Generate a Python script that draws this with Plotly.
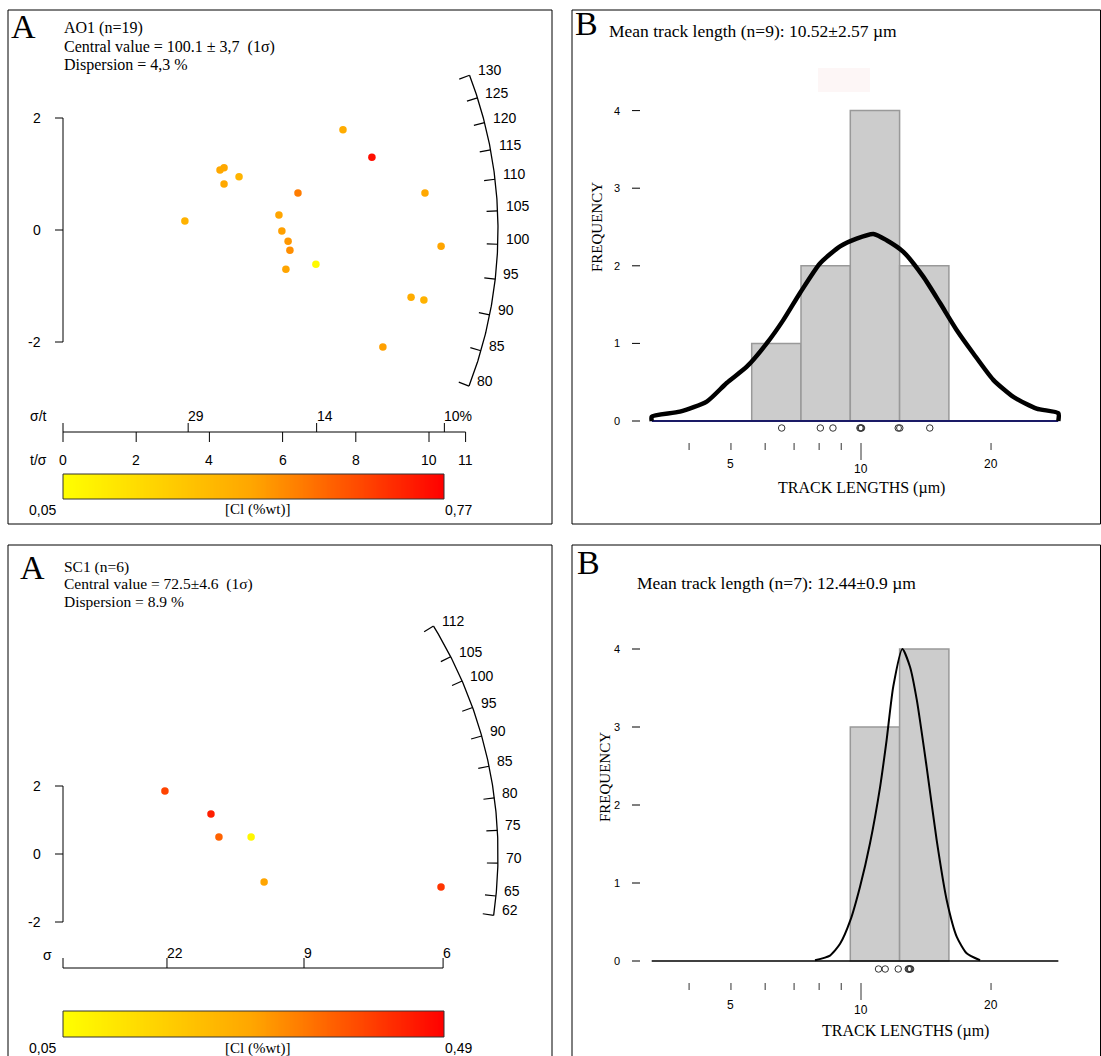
import numpy as np
import plotly.graph_objects as go

W, H = 1101, 1056
SERIF = "Liberation Serif, Times New Roman, serif"
SANS = "Liberation Sans, Arial, sans-serif"

# ================= DATA =================
# --- AO1 radial plot (panel A, top) ---
ao1_precision = [3.33, 4.29, 4.40, 4.40, 4.81, 6.42, 7.65, 8.44, 5.90, 5.98,
                 6.15, 6.20, 6.09, 6.91, 9.89, 10.33, 9.51, 9.86, 8.74]   # t/sigma
ao1_std_est = [0.16, 1.07, 1.11, 0.82, 0.95, 0.66, 1.79, 1.30, 0.27, -0.02,
               -0.20, -0.36, -0.70, -0.61, 0.66, -0.29, -1.20, -1.25, -2.09]
ao1_cl = [0.36, 0.40, 0.40, 0.40, 0.35, 0.50, 0.38, 0.74, 0.41, 0.42,
          0.44, 0.46, 0.41, 0.07, 0.40, 0.41, 0.38, 0.36, 0.42]
ao1_cl_range = [0.05, 0.77]
ao1_cl_labels = ["0,05", "0,77"]
ao1_age_ticks = [80, 85, 90, 95, 100, 105, 110, 115, 120, 125, 130]
ao1_tsig_ticks = [0, 2, 4, 6, 8, 10, 11]
ao1_sigt_pos = [3.42, 6.93, 10.42]
ao1_sigt_labels = ["29", "14", "10%"]
ao1_yticks = [-2, 0, 2]

# --- SC1 radial plot (panel A, bottom) ---
sc1_precision = [4.47, 6.49, 6.84, 8.25, 8.82, 16.58]
sc1_std_est = [1.85, 1.18, 0.50, 0.50, -0.82, -0.97]
sc1_cl = [0.40, 0.45, 0.36, 0.07, 0.27, 0.42]
sc1_cl_range = [0.05, 0.49]
sc1_cl_labels = ["0,05", "0,49"]
sc1_age_ticks = [62, 65, 70, 75, 80, 85, 90, 95, 100, 105, 112]
sc1_sig_pos = [4.56, 10.57, 16.67]
sc1_sig_labels = ["22", "9", "6"]
sc1_yticks = [-2, 0, 2]

# --- track length histograms (panels B) ---
bin_edges = [5.0, 7.5, 10.0, 12.5, 15.0]
ao1_counts = [1, 2, 4, 2]
sc1_counts = [0, 0, 3, 4]
ao1_lengths = [6.52, 8.48, 9.12, 10.49, 10.53, 10.57, 12.43, 12.51, 14.03]
sc1_lengths = [11.43, 11.77, 12.43, 12.94, 12.98, 13.02, 13.06]
ao1_kde_x = [-0.07, 1.36, 2.72, 3.73, 4.75, 5.76, 6.6, 7.45, 8.46, 9.48, 10.32,
             11.17, 11.84, 12.69, 13.70, 14.55, 15.40, 16.24, 17.25, 18.27, 19.45, 20.55]
ao1_kde_y = [0.055, 0.12, 0.25, 0.49, 0.70, 1.0, 1.30, 1.65, 2.03, 2.25, 2.35,
             2.41, 2.33, 2.18, 1.86, 1.52, 1.17, 0.87, 0.53, 0.31, 0.16, 0.10]
sc1_kde_x = [8.21, 8.97, 9.48, 10.0, 10.49, 11.0, 11.51, 11.84, 12.18, 12.64,
             13.03, 13.37, 13.87, 14.38, 14.89, 15.40, 15.90, 16.58]
sc1_kde_y = [0.01, 0.07, 0.22, 0.52, 0.95, 1.51, 2.23, 2.83, 3.52, 4.0,
             3.77, 3.35, 2.49, 1.55, 0.78, 0.31, 0.10, 0.01]
kde_span = [-0.07, 20.55]
freq_ticks = [0, 1, 2, 3, 4]
length_ticks = [4, 5, 6, 7, 8, 9, 10, 20]
length_tick_labels = {5: "5", 10: "10", 20: "20"}

CSCALE = [[0, "#FFFF00"], [0.5, "#FFA500"], [1, "#FF0000"]]

# ================= FIGURE =================
fig = go.Figure()
lay = dict(width=W, height=H, margin=dict(l=0, r=0, t=0, b=0),
           paper_bgcolor="white", plot_bgcolor="rgba(0,0,0,0)", showlegend=False)
annotations = []
shapes = []


def ax_common(**kw):
    d = dict(visible=False, showgrid=False, zeroline=False, fixedrange=True)
    d.update(kw)
    return d


def set_axes(n, box, ox, oy, sx, sy, xtype="linear", yref_n=None, overlay=None):
    x0, y0, x1, y1 = box
    xname = "xaxis" if n == 1 else f"xaxis{n}"
    yn = yref_n if yref_n else n
    lay[xname] = ax_common(domain=[x0 / W, x1 / W], range=[(x0 - ox) / sx, (x1 - ox) / sx],
                           type=xtype, anchor="y" if yn == 1 else f"y{yn}")
    if overlay:
        lay[xname]["overlaying"] = overlay
    if yref_n is None:
        yname = "yaxis" if n == 1 else f"yaxis{n}"
        lay[yname] = ax_common(domain=[1 - y1 / H, 1 - y0 / H],
                               range=[(oy - y1) / sy, (oy - y0) / sy],
                               anchor="x" if n == 1 else f"x{n}")


def pann(text, px, py, size, family, xanchor="center", yanchor="middle", angle=0, color="black"):
    annotations.append(dict(text=text, x=px / W, y=1 - py / H, xref="paper", yref="paper",
                            showarrow=False, xanchor=xanchor, yanchor=yanchor, textangle=angle,
                            font=dict(size=size, family=family, color=color)))


def dann(text, x, y, xr, yr, size, family=SANS, xanchor="center", yanchor="middle",
         xshift=0, yshift=0):
    annotations.append(dict(text=text, x=x, y=y, xref=xr, yref=yr, showarrow=False,
                            xanchor=xanchor, yanchor=yanchor, xshift=xshift, yshift=yshift,
                            font=dict(size=size, family=family, color="black")))


def segs(seglist, xa, ya, color="black", width=1.0):
    xs, ys = [], []
    for (a, b, c, d) in seglist:
        xs += [a, c, None]
        ys += [b, d, None]
    fig.add_trace(go.Scatter(x=xs, y=ys, mode="lines", line=dict(color=color, width=width),
                             xaxis=xa, yaxis=ya, hoverinfo="skip"))


def prect(x0, y0, x1, y1, color="black", width=1, fill=None):
    shapes.append(dict(type="rect", xref="paper", yref="paper", x0=x0 / W, x1=x1 / W,
                       y0=1 - y1 / H, y1=1 - y0 / H, line=dict(color=color, width=width),
                       fillcolor=fill if fill else "rgba(0,0,0,0)",
                       layer="above"))


# panel frames
prect(8, 10, 552, 524)
prect(572, 10, 1100.5, 524)
prect(8, 545, 552, 1058)
prect(572, 545, 1100.5, 1058)


# ---------- radial plot builder ----------
def radial(n, box, ox, oy, sx, sy, prec, zval, cl, clr, age_ticks, theta_fn, yticks, xa, ya):
    set_axes(n, box, ox, oy, sx, sy)
    yv = lambda py: (oy - py) / sy
    # left axis
    segs([(0, min(yticks), 0, max(yticks))] + [(0, t, -8 / sx, t) for t in yticks], xa, ya, width=1)
    for t in yticks:
        dann(str(t), 0, t, xa, ya, 14, xanchor="right", xshift=-20)
    # arc
    R = 435.0
    th = np.linspace(theta_fn(min(age_ticks)), theta_fn(max(age_ticks)), 200)
    fig.add_trace(go.Scatter(x=R * np.cos(th) / sx, y=R * np.sin(th) / sy, mode="lines",
                             line=dict(color="black", width=1.3), xaxis=xa, yaxis=ya,
                             hoverinfo="skip"))
    tk = []
    for a in age_ticks:
        t = theta_fn(a)
        tk.append(((R - 11) * np.cos(t) / sx, (R - 11) * np.sin(t) / sy,
                   R * np.cos(t) / sx, R * np.sin(t) / sy))
        dann(str(a), R * np.cos(t) / sx, R * np.sin(t) / sy, xa, ya, 14,
             xanchor="left", xshift=6, yshift=5)
    segs(tk, xa, ya, width=1.2)
    # points
    fig.add_trace(go.Scatter(x=prec, y=zval, mode="markers", xaxis=xa, yaxis=ya,
                             marker=dict(size=7.5, color=cl, colorscale=CSCALE,
                                         cmin=clr[0], cmax=clr[1], line=dict(width=0)),
                             hoverinfo="skip"))
    return yv


ln_t0_top = np.log(102.1)
theta_top = lambda a: np.arctan(1.576 * (np.log(a) - ln_t0_top))
theta_bot = lambda a: np.arctan(0.01515 * (a - 71.4))

# ---- Panel A top ----
yv1 = radial(1, (8, 10, 552, 524), 63, 230, 36.6, 56, ao1_precision, ao1_std_est, ao1_cl,
             ao1_cl_range, ao1_age_ticks, theta_top, ao1_yticks, "x", "y")
segs([(0, yv1(432), max(ao1_tsig_ticks), yv1(432))]
     + [(p, yv1(432), p, yv1(423)) for p in [0] + ao1_sigt_pos]
     + [(t, yv1(432), t, yv1(442)) for t in ao1_tsig_ticks], "x", "y", width=1)
for t in ao1_tsig_ticks:
    dann(str(t), t, yv1(460), "x", "y", 14)
for p, lab in zip(ao1_sigt_pos, ao1_sigt_labels):
    dann(lab, p, yv1(416), "x", "y", 14, xanchor="left", xshift=-2)
pann("σ/t", 38, 416, 14, SANS)
pann("t/σ", 38, 460, 14, SANS)

# ---- Panel A bottom ----
yv2 = radial(4, (8, 545, 552, 1056), 63, 854, 22.8, 34, sc1_precision, sc1_std_est, sc1_cl,
             sc1_cl_range, sc1_age_ticks, theta_bot, sc1_yticks, "x4", "y4")
segs([(0, yv2(968), max(sc1_sig_pos), yv2(968))]
     + [(p, yv2(968), p, yv2(958)) for p in [0] + sc1_sig_pos], "x4", "y4", width=1)
for p, lab in zip(sc1_sig_pos, sc1_sig_labels):
    dann(lab, p, yv2(953), "x4", "y4", 14, xanchor="left", xshift=-2)
pann("σ", 47, 955, 14, SANS)


# ---- colour bars ----
def colorbar(n, box, clr, labels):
    x0, y0, x1, y1 = box
    lay[f"xaxis{n}"] = ax_common(domain=[x0 / W, x1 / W], range=clr, anchor=f"y{n}")
    lay[f"yaxis{n}"] = ax_common(domain=[1 - y1 / H, 1 - y0 / H], range=[0, 1], anchor=f"x{n}")
    vals = np.linspace(clr[0], clr[1], 300)
    fig.add_trace(go.Heatmap(z=[vals], x=vals, y=[0.5], colorscale=CSCALE, zmin=clr[0],
                             zmax=clr[1], showscale=False, xaxis=f"x{n}", yaxis=f"y{n}",
                             hoverinfo="skip"))
    prect(x0, y0, x1, y1, color="#333333", width=1)
    ly = y1 + 11
    pann(labels[0], x0 - 5, ly, 14, SANS, xanchor="right")
    pann(labels[1], x1 - 1, ly, 14, SANS, xanchor="left")
    pann("[Cl (%wt)]", (x0 + x1) / 2 + 4, ly, 15, SERIF)


colorbar(7, (63, 474, 444, 499), ao1_cl_range, ao1_cl_labels)
colorbar(8, (63, 1011, 444, 1037), sc1_cl_range, sc1_cl_labels)


# ---------- histogram builder ----------
def histo(n, nlog, box, oy, sy, counts, lengths, kx, ky, thick, base_color,
          rug_py, tick_py, lab_py):
    ox, sx = 653.1, 19.72
    set_axes(n, box, ox, oy, sx, sy)
    set_axes(nlog, box, 429.0, oy, 432.0, sy, xtype="log", yref_n=n, overlay=f"x{n}")
    xa, ya, xl = f"x{n}", f"y{n}", f"x{nlog}"
    yv = lambda py: (oy - py) / sy
    xv = lambda px: (px - ox) / sx
    centers = [(bin_edges[i] + bin_edges[i + 1]) / 2 for i in range(len(counts)) if counts[i] > 0]
    hs = [c for c in counts if c > 0]
    widths = [bin_edges[i + 1] - bin_edges[i] for i in range(len(counts)) if counts[i] > 0]
    fig.add_trace(go.Bar(x=centers, y=hs, width=widths, xaxis=xa, yaxis=ya,
                         marker=dict(color="#CCCCCC", line=dict(color="#999999", width=1.5)),
                         hoverinfo="skip"))
    segs([(kde_span[0], 0, kde_span[1], 0)], xa, ya, color=base_color, width=2 if thick else 1.5)
    if thick:
        cx = [kde_span[0]] + kx + [kde_span[1]]
        cy = [0] + ky + [0]
    else:
        cx, cy = kx, ky
    fig.add_trace(go.Scatter(x=cx, y=cy, mode="lines", line=dict(color="black",
                             width=4.5 if thick else 2, shape="spline", smoothing=0.6),
                             xaxis=xa, yaxis=ya, hoverinfo="skip"))
    # rug
    fig.add_trace(go.Scatter(x=lengths, y=[yv(rug_py)] * len(lengths), mode="markers",
                             marker=dict(symbol="circle-open", size=6.5, color="#333333",
                                         line=dict(color="#333333", width=1)),
                             xaxis=xa, yaxis=ya, hoverinfo="skip"))
    # y ticks
    segs([(xv(632), f, xv(640), f) for f in freq_ticks], xa, ya, width=1)
    for f in freq_ticks:
        dann(str(f), xv(617), f, xa, ya, 11)
    # log-scale length ticks
    tk = []
    for v in length_ticks:
        tk.append((v, yv(tick_py), v, yv(tick_py + (17 if v == 10 else 7))))
    segs(tk, xl, ya, color="#333333", width=1)
    for v, lab in length_tick_labels.items():
        dann(lab, np.log10(v), yv(lab_py + (5 if v == 10 else 0)), xl, ya, 12)


histo(2, 3, (572, 10, 1101, 524), 421, 77.6, ao1_counts, ao1_lengths, ao1_kde_x, ao1_kde_y,
      True, "#1a1a66", 428, 443, 464)
histo(5, 6, (572, 545, 1101, 1056), 961, 78, sc1_counts, sc1_lengths, sc1_kde_x, sc1_kde_y,
      False, "black", 969, 983, 1005)

# faint artefact box in top histogram
shapes.append(dict(type="rect", xref="paper", yref="paper", x0=818 / W, x1=870 / W,
                   y0=1 - 92 / H, y1=1 - 68 / H, line=dict(width=0), fillcolor="#FDF6F6",
                   layer="below"))

# ---------- texts ----------
NB = "\u00a0"
pann("A", 23, 26, 34, SERIF)
pann("AO1 (n=19)", 62, 28, 16, SERIF, xanchor="left")
pann("Central value = 100.1 ± 3,7" + NB + NB + "(1σ)", 62, 46.5, 16, SERIF, xanchor="left")
pann("Dispersion = 4,3 %", 62, 65, 16, SERIF, xanchor="left")

pann("A", 32, 567, 34, SERIF)
pann("SC1 (n=6)", 62, 567, 15.5, SERIF, xanchor="left")
pann("Central value = 72.5±4.6" + NB + NB + "(1σ)", 62, 584, 15.5, SERIF, xanchor="left")
pann("Dispersion = 8.9 %", 62, 601, 15.5, SERIF, xanchor="left")

pann("B", 586, 24, 34, SERIF)
pann("Mean track length (n=9): 10.52±2.57 µm", 607, 31, 17.5, SERIF, xanchor="left")
pann("B", 588, 562, 34, SERIF)
pann("Mean track length (n=7): 12.44±0.9 µm", 635, 583, 17.5, SERIF, xanchor="left")

pann("FREQUENCY", 597, 227, 15, SERIF, angle=-90)
pann("FREQUENCY", 605, 777, 15, SERIF, angle=-90)
pann("TRACK LENGTHS (µm)", 861, 488, 16, SERIF)
pann("TRACK LENGTHS (µm)", 905, 1031, 16, SERIF)

lay["annotations"] = annotations
lay["shapes"] = shapes
fig.update_layout(**lay)
fig.write_html("out.html")
